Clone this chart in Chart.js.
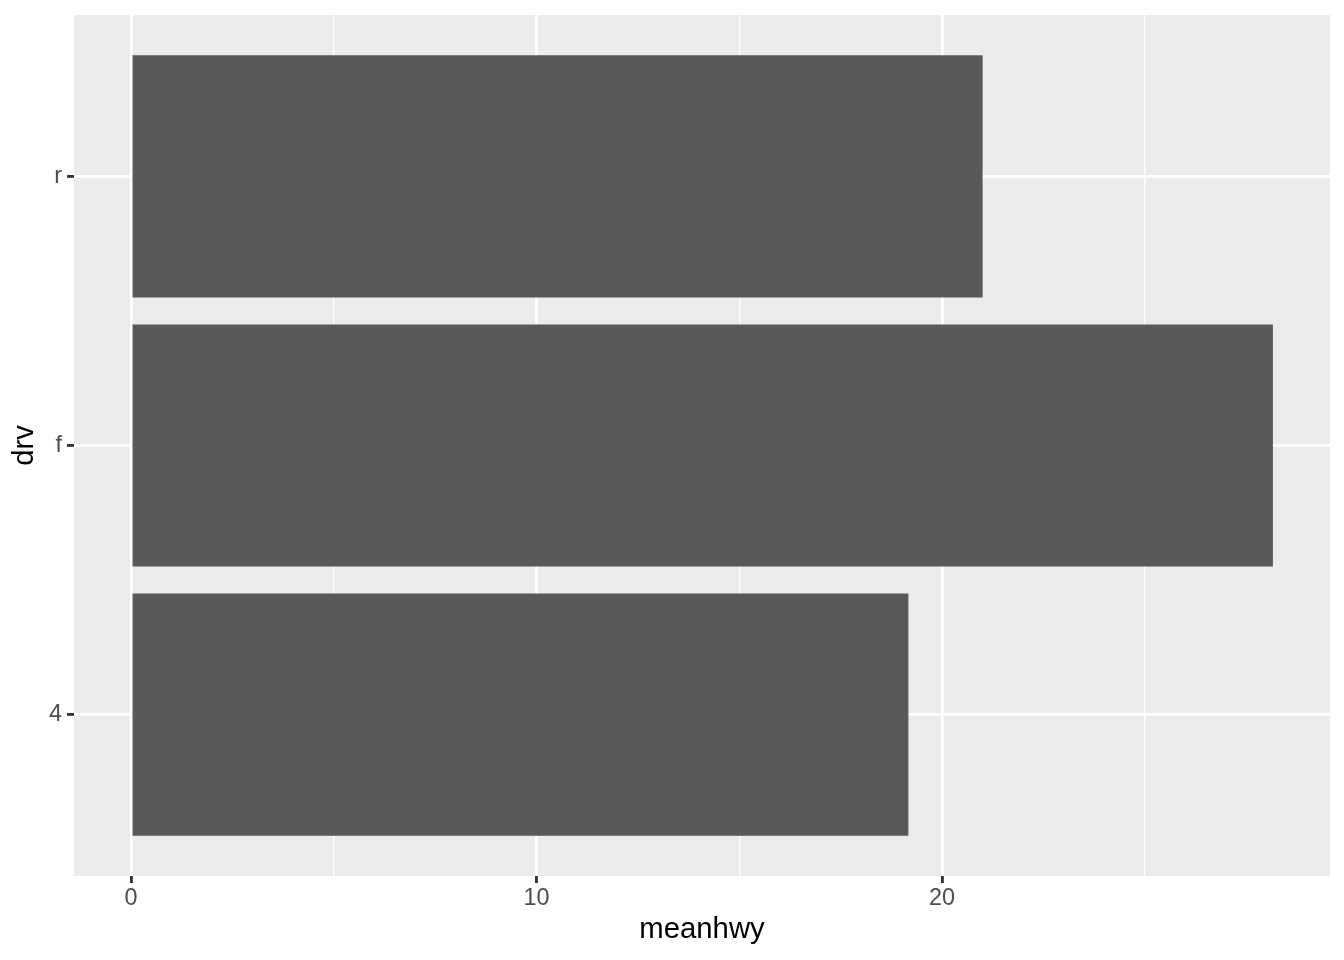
<!DOCTYPE html>
<html>
<head>
<meta charset="utf-8">
<script src="https://cdn.jsdelivr.net/npm/chart.js@4/dist/chart.umd.min.js"></script>
<style>
html,body{margin:0;padding:0;background:#fff;}
canvas{display:block;}
</style>
</head>
<body>
<canvas id="c" width="1344" height="960"></canvas>
<script>
const categories = ['4', 'f', 'r'];
const meanhwy = [19.17, 28.16, 21.00];
const xMajorTicks = [0, 10, 20];
const xMinorTicks = [5, 15, 25];
const xTitle = 'meanhwy';
const yTitle = 'drv';

const allX = xMajorTicks.concat(xMinorTicks).sort((a, b) => a - b);
const maxVal = Math.max(...meanhwy);
const xPad = maxVal * 0.05;

const panelBg = {
  id: 'panelBg',
  beforeDraw(chart) {
    const {ctx, chartArea: a} = chart;
    ctx.save();
    ctx.fillStyle = '#EBEBEB';
    ctx.fillRect(a.left, a.top, a.right - a.left, a.bottom - a.top);
    ctx.restore();
  }
};

const font = "'Liberation Sans', Arial, sans-serif";

new Chart(document.getElementById('c'), {
  type: 'bar',
  data: {
    datasets: [{
      data: categories.map((c, i) => ({x: meanhwy[i], y: i + 1})),
      backgroundColor: '#595959',
      borderWidth: 0,
      categoryPercentage: 1,
      barPercentage: 0.9
    }]
  },
  options: {
    indexAxis: 'y',
    responsive: false,
    animation: false,
    layout: {padding: {top: 15, right: 14, left: 0, bottom: 0}},
    plugins: {legend: {display: false}, tooltip: {enabled: false}},
    scales: {
      x: {
        type: 'linear',
        min: -xPad,
        max: maxVal + xPad,
        afterBuildTicks(s) { s.ticks = allX.map(v => ({value: v})); },
        afterFit(s) { s.height = 84; s.paddingLeft = 0; s.paddingRight = 0; },
        border: {display: false},
        grid: {
          color: '#FFFFFF',
          lineWidth: ctx => xMajorTicks.includes(ctx.tick && ctx.tick.value) ? 2.85 : 1.42,
          tickColor: ctx => xMajorTicks.includes(ctx.tick && ctx.tick.value) ? '#333333' : 'rgba(0,0,0,0)',
          tickWidth: 2.85,
          tickLength: 7
        },
        ticks: {
          color: '#4D4D4D',
          font: {family: font, size: 23.4},
          padding: 2,
          maxRotation: 0,
          autoSkip: false,
          callback: v => xMajorTicks.includes(v) ? String(v) : ''
        },
        title: {
          display: true,
          text: xTitle,
          color: '#000000',
          font: {family: font, size: 29.3},
          padding: {top: 0, bottom: 13}
        }
      },
      y: {
        type: 'linear',
        offset: false,
        min: 0.4,
        max: categories.length + 0.6,
        afterBuildTicks(s) { s.ticks = categories.map((c, i) => ({value: i + 1})); },
        afterFit(s) { s.width = 74; s.paddingTop = 0; s.paddingBottom = 0; },
        border: {display: false},
        grid: {
          offset: false,
          color: '#FFFFFF',
          lineWidth: 2.85,
          tickColor: '#333333',
          tickWidth: 2.85,
          tickLength: 7
        },
        ticks: {
          color: '#4D4D4D',
          font: {family: font, size: 23.4},
          padding: 5,
          autoSkip: false,
          callback: v => categories[Math.round(v) - 1] || ''
        },
        title: {
          display: true,
          text: yTitle,
          color: '#000000',
          font: {family: font, size: 29.3},
          padding: {top: 7, bottom: 0}
        }
      }
    }
  },
  plugins: [panelBg]
});
</script>
</body>
</html>
